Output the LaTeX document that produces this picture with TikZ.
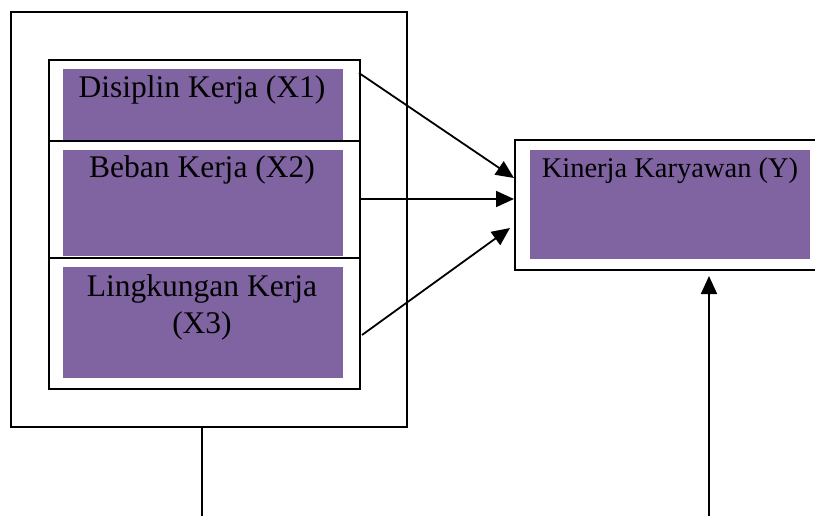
\documentclass[tikz,border=0pt]{standalone}
\usepackage{fontspec}
\setmainfont{Liberation Serif}
\usetikzlibrary{arrows.meta,calc}
\definecolor{vpurple}{HTML}{8064A2}
\tikzset{
  frame/.style={draw=black,line width=2pt,inner sep=0pt,anchor=north west},
  fillbox/.style={fill=vpurple,draw=none,inner sep=0pt,anchor=north west},
  lbl/.style={font=\fontsize{31.5}{36.6}\selectfont,inner sep=0pt,anchor=base,align=center},
  lblY/.style={font=\fontsize{28.5}{33}\selectfont,inner sep=0pt,anchor=base},
  conn/.style={line width=1.8pt,-{Triangle[length=18pt,width=16pt]}},
  plain/.style={line width=1.8pt}
}
\begin{document}
\begin{tikzpicture}[x=1pt,y=-1pt]
\useasboundingbox (0,0) rectangle (815,516);
% outer frame
\node[frame,minimum width=396pt,minimum height=415pt] (outer) at (10,11) {};
% purple fills
\node[fillbox,minimum width=280pt,minimum height=71pt] (f1) at (63,69) {};
\node[fillbox,minimum width=280pt,minimum height=106pt] (f2) at (63,150) {};
\node[fillbox,minimum width=280pt,minimum height=111pt] (f3) at (63,267) {};
\node[fillbox,minimum width=280pt,minimum height=109pt] (fy) at (530,150) {};
% inner frames
\node[frame,minimum width=311pt,minimum height=81pt] (b1) at (48,59) {};
\node[frame,minimum width=311pt,minimum height=117pt] (b2) at (48,140) {};
\node[frame,minimum width=311pt,minimum height=131pt] (b3) at (48,257) {};
\node[frame,minimum width=301pt,minimum height=130pt] (by) at (513.5,139.5) {};
% labels
\node[lbl] (t1) at (202,98) {Disiplin Kerja (X1)};
\node[lbl] (t2) at (202,178) {Beban Kerja (X2)};
\node[lbl] (t3) at (202,333.5) {Lingkungan Kerja\\(X3)};
\node[lblY] (ty) at (670,177.5) {Kinerja Karyawan (Y)};
% connector points
\coordinate (s1) at (359,73);
\coordinate (e1) at (514,178);
\coordinate (s2) at (359,199);
\coordinate (e2) at (514,199);
\coordinate (s3) at (362,335);
\coordinate (e3) at (510,228);
\coordinate (ob) at (202,426);
\coordinate (obe) at (202,516);
\coordinate (vb) at (709,516);
\coordinate (vt) at (709,276);
\draw[conn] (s1) -- (e1);
\draw[conn] (s2) -- (e2);
\draw[conn] (s3) -- (e3);
\draw[plain] (ob) -- (obe);
\draw[conn] (vb) -- (vt);
\end{tikzpicture}
\end{document}
